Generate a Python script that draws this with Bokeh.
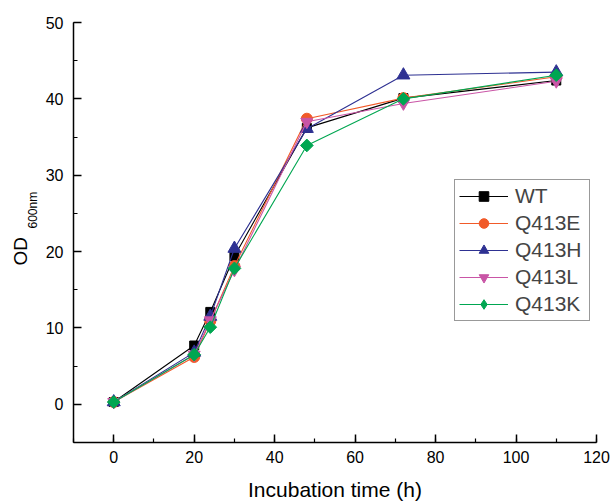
import math
from bokeh.plotting import figure
from bokeh.models import Range1d, Title, SingleIntervalTicker, Legend
from bokeh.embed import file_html
from bokeh.resources import INLINE

time_h = [0, 20, 24, 30, 48, 72, 110]
wt = [0.3, 7.7, 12.1, 19.4, 36.2, 40.1, 42.4]
q413e = [0.3, 6.2, 10.9, 18.1, 37.4, 40.1, 42.9]
q413h = [0.3, 6.8, 11.5, 20.4, 36.1, 43.1, 43.5]
q413l = [0.3, 6.5, 11.0, 17.6, 37.0, 39.4, 42.3]
q413k = [0.3, 6.5, 10.1, 17.8, 33.9, 40.0, 43.1]

# name, values, colour, plot marker, size, angle, legend marker, legend size
series = [
    ("WT", wt, "#000000", "square", 9, 0, "square", 9),
    ("Q413E", q413e, "#f15a29", "circle", 11, 0, "circle", 11),
    ("Q413H", q413h, "#2e3192", "triangle", 13, 0, "triangle", 13),
    ("Q413L", q413l, "#c955a6", "inverted_triangle", 12, 0, "inverted_triangle", 12),
    ("Q413K", q413k, "#00a651", "square", 9, math.pi / 4, "diamond", 16),
]

FONT = "Liberation Sans"

p = figure(width=611, height=503, output_backend="svg", toolbar_location=None,
           x_range=Range1d(-10, 120), y_range=Range1d(-5, 50),
           min_border_left=73, min_border_right=15, min_border_top=22, min_border_bottom=59)
p.outline_line_color = None
p.grid.visible = False
p.background_fill_color = "white"
p.border_fill_color = "white"

nan = float("nan")
items = []
for name, vals, color, marker, size, ang, lmarker, lsize in series:
    ln = p.line(time_h, vals, line_color=color, line_width=1.1)
    sc = p.scatter(time_h, vals, marker=marker, size=size, angle=ang,
                   fill_color=color, line_color=color)
    if ang != 0:
        leg = p.scatter([nan], [nan], marker=lmarker, size=lsize,
                        fill_color=color, line_color=color)
        items.append((name, [ln, leg]))
    else:
        items.append((name, [ln, sc]))

legend = Legend(items=items, location=(381, 121))
legend.label_text_font = FONT
legend.label_text_font_size = "21px"
legend.border_line_color = "#333333"
legend.border_line_width = 1
legend.glyph_width = 49
legend.glyph_height = 24
legend.label_height = 24
legend.label_width = 70
legend.spacing = 3
legend.padding = 4
legend.margin = 0
legend.label_standoff = 7
legend.background_fill_alpha = 1
p.add_layout(legend, "center")

for ax in (p.xaxis[0], p.yaxis[0]):
    ax.axis_line_color = "black"
    ax.axis_line_width = 1.5
    ax.major_tick_line_color = "black"
    ax.major_tick_line_width = 1.5
    ax.minor_tick_line_color = "black"
    ax.minor_tick_line_width = 1.2
    ax.major_tick_in = 8
    ax.major_tick_out = 0
    ax.minor_tick_in = 4
    ax.minor_tick_out = 0
    ax.major_label_text_font = FONT
    ax.major_label_text_font_size = "16px"
    ax.major_label_text_color = "black"
    ax.axis_label_text_font = FONT
    ax.axis_label_text_font_style = "normal"
    ax.axis_label_text_font_size = "21px"
    ax.axis_label_text_color = "black"

p.xaxis[0].ticker = SingleIntervalTicker(interval=20, num_minor_ticks=2)
p.yaxis[0].ticker = SingleIntervalTicker(interval=10, num_minor_ticks=2)
p.xaxis[0].axis_label = "Incubation time (h)"
p.xaxis[0].major_label_standoff = 8
p.xaxis[0].axis_label_standoff = 12
p.yaxis[0].major_label_standoff = 10

p.add_layout(Title(text="600nm", align="left", offset=214, standoff=5,
                   text_font=FONT, text_font_size="12px", text_font_style="normal",
                   text_color="black"), "left")
p.add_layout(Title(text="OD", align="left", offset=177, standoff=-19,
                   text_font=FONT, text_font_size="19px", text_font_style="normal",
                   text_color="black"), "left")

open("out.html", "w").write(file_html(p, INLINE))
